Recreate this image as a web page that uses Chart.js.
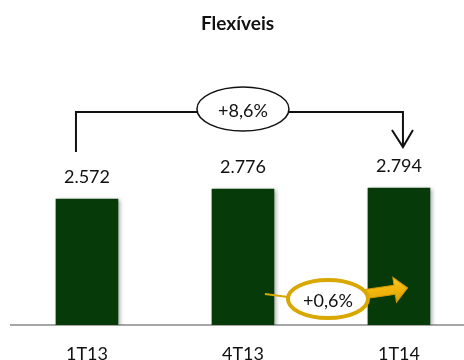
<!DOCTYPE html>
<html>
<head>
<meta charset="utf-8">
<script src="https://cdn.jsdelivr.net/npm/chart.js@4"></script>
<style>
  html, body { margin: 0; padding: 0; background: #fff; }
  #wrap { width: 464px; height: 360px; }
</style>
</head>
<body>
<div id="wrap"><canvas id="flexChart" width="464" height="360"></canvas></div>
<script>
const quarters = ["1T13", "4T13", "1T14"];
const volumes = [2572, 2776, 2794];
const yearGrowth = "+8,6%";
const quarterGrowth = "+0,6%";

const FONT = "Lato, 'Open Sans', sans-serif";
const GREEN = "#063b09";
const GOLD = "#d9a800";

function fmt(v) {
  return String(v).replace(/\B(?=(\d{3})+(?!\d))/g, ".");
}

// soft shadow behind the bars
const barShadow = {
  id: "barShadow",
  beforeDatasetsDraw(chart) {
    const ctx = chart.ctx;
    ctx.save();
    ctx.shadowColor = "rgba(0,0,0,0.35)";
    ctx.shadowBlur = 4;
    ctx.shadowOffsetX = 2;
    ctx.shadowOffsetY = 1;
  },
  afterDatasetsDraw(chart) {
    chart.ctx.restore();
  }
};

// value above each bar
const valueLabels = {
  id: "valueLabels",
  afterDatasetsDraw(chart) {
    const ctx = chart.ctx;
    const bars = chart.getDatasetMeta(0).data;
    ctx.save();
    ctx.font = "18px " + FONT;
    ctx.fillStyle = "#111";
    ctx.textAlign = "center";
    ctx.textBaseline = "middle";
    bars.forEach((bar, i) => {
      ctx.fillText(fmt(volumes[i]), bar.x, bar.y - 22);
    });
    ctx.restore();
  }
};

function ellipseLabel(ctx, cx, cy, rx, ry, stroke, width, text) {
  ctx.beginPath();
  ctx.ellipse(cx, cy, rx, ry, 0, 0, Math.PI * 2);
  ctx.fillStyle = "#fff";
  ctx.fill();
  ctx.lineWidth = width;
  ctx.strokeStyle = stroke;
  ctx.stroke();
  ctx.fillStyle = "#111";
  ctx.font = "18px " + FONT;
  ctx.textAlign = "center";
  ctx.textBaseline = "middle";
  ctx.fillText(text, cx, cy + 2);
}

// growth bracket and quarter-on-quarter arrow
const growthMarks = {
  id: "growthMarks",
  afterDraw(chart) {
    const ctx = chart.ctx;
    const bars = chart.getDatasetMeta(0).data;
    const x0 = bars[0].x - 11;
    const x2 = bars[2].x + 4;
    const top = 112;

    ctx.save();
    ctx.strokeStyle = "#111";
    ctx.lineWidth = 2;
    ctx.beginPath();
    ctx.moveTo(x0, 152);
    ctx.lineTo(x0, top);
    ctx.lineTo(x2, top);
    ctx.lineTo(x2, 146);
    ctx.stroke();
    ctx.beginPath();
    ctx.moveTo(x2 - 11, 130);
    ctx.lineTo(x2, 147);
    ctx.lineTo(x2 + 10, 130);
    ctx.stroke();
    ellipseLabel(ctx, (bars[0].x + bars[2].x) / 2, 109, 46, 22, "#111", 1.5, yearGrowth);

    // gold callout between 4T13 and 1T14
    const gx = bars[1].x + 85;
    const gy = 299;
    ctx.strokeStyle = GOLD;
    ctx.lineWidth = 2;
    ctx.beginPath();
    ctx.moveTo(bars[1].x + 22, 294);
    ctx.lineTo(gx - 40, 297);
    ctx.stroke();

    ctx.save();
    ctx.translate(gx + 38, 294);
    ctx.rotate(Math.atan2(-6, 41));
    const grad = ctx.createLinearGradient(0, -12, 0, 12);
    grad.addColorStop(0, "#ffc81a");
    grad.addColorStop(1, "#e0a200");
    ctx.beginPath();
    ctx.moveTo(0, -4.5);
    ctx.lineTo(29, -4.5);
    ctx.lineTo(29, -12.5);
    ctx.lineTo(42, 0);
    ctx.lineTo(29, 12.5);
    ctx.lineTo(29, 4.5);
    ctx.lineTo(0, 4.5);
    ctx.closePath();
    ctx.fillStyle = grad;
    ctx.fill();
    ctx.lineWidth = 1;
    ctx.strokeStyle = "#d49a00";
    ctx.stroke();
    ctx.restore();

    ellipseLabel(ctx, gx, gy, 40, 19, GOLD, 4, quarterGrowth);
    ctx.restore();
  }
};

const ctx = document.getElementById("flexChart").getContext("2d");
new Chart(ctx, {
  type: "bar",
  data: {
    datasets: [
      {
        data: volumes.map((v, i) => ({ x: i, y: v })),
        backgroundColor: GREEN,
        barThickness: 62,
        borderWidth: 0
      }
    ]
  },
  options: {
    responsive: false,
    animation: false,
    layout: { padding: { left: 11, right: 0, top: 0, bottom: -23 } },
    plugins: {
      legend: { display: false },
      tooltip: { enabled: false },
      title: {
        display: true,
        text: "Flexíveis",
        color: "#111",
        font: { family: FONT, size: 19, weight: "bold", lineHeight: 1.2 },
        padding: { top: 12, bottom: 12 }
      }
    },
    scales: {
      x: {
        type: "linear",
        min: -0.487,
        max: 2.417,
        offset: false,
        grid: { display: false, drawTicks: false, offset: false },
        border: { color: "#a6a6a6", width: 2 },
        afterBuildTicks: (scale) => {
          scale.ticks = quarters.map((_, i) => ({ value: i }));
        },
        ticks: {
          autoSkip: false,
          maxRotation: 0,
          padding: 20,
          color: "#111",
          font: { family: FONT, size: 18, lineHeight: 1 },
          callback: (v) => quarters[v]
        }
      },
      y: {
        display: false,
        min: 0,
        max: 5678
      }
    }
  },
  plugins: [barShadow, valueLabels, growthMarks]
});
</script>
</body>
</html>
